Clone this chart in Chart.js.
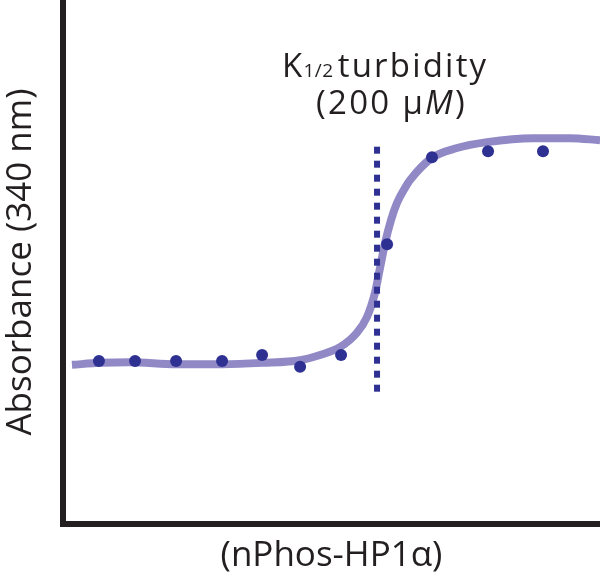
<!DOCTYPE html>
<html>
<head>
<meta charset="utf-8">
<script src="https://cdn.jsdelivr.net/npm/chart.js@4/dist/chart.umd.min.js"></script>
<style>
  html, body { margin: 0; padding: 0; background: #fff; }
</style>
</head>
<body>
<canvas id="turbidityChart" width="600" height="577"></canvas>
<script>
// Datos medidos (concentración en µM, absorbancia a 340 nm)
const concentration = [22.9, 45.9, 72.0, 101.3, 126.8, 151.0, 177.1, 206.4, 235.0, 270.7, 305.7];
const absorbance = [0.249, 0.249, 0.249, 0.249, 0.258, 0.240, 0.258, 0.427, 0.560, 0.569, 0.569];

// Curva de ajuste
const fitX = [5.7, 23.6, 42.7, 72.0, 101.3, 126.8, 151.0, 163.7, 176.4, 187.2, 193.6, 198.7, 201.9, 205.1, 208.9, 212.7, 217.8, 221.0, 235.0, 250.9, 270.0, 299.4, 322.9, 342.0];
const fitY = [0.243, 0.246, 0.247, 0.244, 0.244, 0.246, 0.250, 0.258, 0.270, 0.292, 0.316, 0.353, 0.391, 0.429, 0.464, 0.490, 0.513, 0.525, 0.559, 0.574, 0.583, 0.589, 0.589, 0.586];

// K1/2 de turbidez
const kHalf = 200;
const kLineY = [0.202, 0.577];

const xTitle = '(nPhos-HP1α)';
const yTitle = 'Absorbance (340 nm)';

const dark = '#2e3192';
const ink = '#231f20';

// Texto de la anotación K1/2
const kLabel = {
  id: 'kLabel',
  afterDraw(chart) {
    const ctx = chart.ctx;
    ctx.save();
    ctx.fillStyle = ink;
    ctx.textBaseline = 'alphabetic';
    ctx.textAlign = 'left';
    ctx.letterSpacing = '2.3px';
    let x = 282;
    ctx.font = '33px "Open Sans"';
    ctx.fillText('K', x, 77);
    x += ctx.measureText('K').width - 1;
    ctx.font = '19px "Open Sans"';
    ctx.letterSpacing = '0.5px';
    ctx.fillText('1/2', x, 77);
    x += ctx.measureText('1/2').width + 4;
    ctx.font = '33px "Open Sans"';
    ctx.letterSpacing = '2.2px';
    ctx.fillText('turbidity', x, 77);

    ctx.letterSpacing = '2.3px';
    x = 316;
    ctx.fillText('(200 µ', x, 114);
    x += ctx.measureText('(200 µ').width;
    ctx.font = 'italic 33px "Open Sans"';
    ctx.fillText('M', x, 114);
    x += ctx.measureText('M').width;
    ctx.font = '33px "Open Sans"';
    ctx.fillText(')', x, 114);
    ctx.restore();
  }
};

const ctx = document.getElementById('turbidityChart').getContext('2d');
ctx.letterSpacing = '2.2px';

new Chart(ctx, {
  type: 'scatter',
  data: {
    datasets: [
      {
        label: 'data',
        data: concentration.map((c, i) => ({ x: c, y: absorbance[i] })),
        backgroundColor: dark,
        borderColor: dark,
        pointRadius: 6,
        pointBorderWidth: 0,
        showLine: false,
        clip: false,
        order: 0
      },
      {
        label: 'K1/2',
        data: kLineY.map(v => ({ x: kHalf, y: v })),
        borderColor: dark,
        borderWidth: 6,
        borderDash: [7, 7],
        borderCapStyle: 'butt',
        pointRadius: 0,
        showLine: true,
        clip: false,
        order: 1
      },
      {
        label: 'fit',
        data: fitX.map((c, i) => ({ x: c, y: fitY[i] })),
        borderColor: '#9189c6',
        borderWidth: 8,
        pointRadius: 0,
        showLine: true,
        cubicInterpolationMode: 'monotone',
        clip: false,
        order: 2
      }
    ]
  },
  options: {
    responsive: false,
    animation: false,
    layout: { autoPadding: false, padding: 0 },
    plugins: {
      legend: { display: false },
      tooltip: { enabled: false }
    },
    scales: {
      x: {
        type: 'linear',
        min: 0,
        max: 342,
        grid: { display: false, drawTicks: false },
        border: { display: true, color: ink, width: 6 },
        ticks: { display: false },
        title: {
          display: true,
          text: xTitle,
          color: ink,
          font: { family: '"Open Sans"', size: 35 },
          padding: { top: 11, bottom: 0 }
        }
      },
      y: {
        type: 'linear',
        min: 0,
        max: 0.8,
        grid: { display: false, drawTicks: false },
        border: { display: true, color: ink, width: 6 },
        ticks: { display: false },
        title: {
          display: true,
          text: yTitle,
          color: ink,
          font: { family: '"Open Sans"', size: 35 },
          padding: { top: 0, bottom: 21 }
        }
      }
    }
  },
  plugins: [kLabel]
});
</script>
</body>
</html>
